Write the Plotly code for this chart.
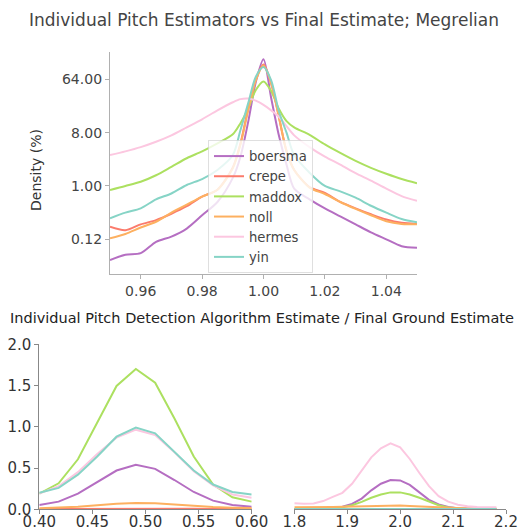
import numpy as np
import plotly.graph_objects as go

# ---- Top panel: KDE of each estimator's ratio to the final pitch estimate (density in %)
ratio_grid = [0.950, 0.955, 0.960, 0.965, 0.970, 0.975, 0.980, 0.985, 0.990, 0.9925,
              0.995, 0.9975, 1.000, 1.0025, 1.005, 1.0075, 1.010, 1.015, 1.020, 1.025,
              1.030, 1.035, 1.040, 1.045, 1.050]

boersma_kde = [0.0556, 0.0684, 0.0728, 0.113, 0.139, 0.190, 0.319, 0.536, 1.37, 3.14,
               12.1, 57.7, 141.0, 30.9, 7.21, 2.30, 0.901, 0.595, 0.418, 0.306,
               0.224, 0.164, 0.125, 0.0954, 0.0896]
crepe_kde = [0.204, 0.178, 0.224, 0.264, 0.339, 0.454, 0.66, 0.865, 2.07, 5.28,
             20.4, 64.0, 114.6, 55.3, 14.9, 3.86, 1.87, 0.959, 0.763, 0.536,
             0.418, 0.332, 0.270, 0.238, 0.228]
maddox_kde = [0.856, 1.0, 1.18, 1.52, 2.11, 2.95, 3.86, 5.28, 7.5, 11.6,
              20.4, 42.2, 58.9, 40.5, 20.4, 12.6, 9.85, 7.36, 5.06, 3.63,
              2.66, 2.03, 1.61, 1.31, 1.11]
noll_kde = [0.130, 0.154, 0.198, 0.248, 0.354, 0.483, 0.66, 0.865, 1.99, 5.06,
            19.1, 61.4, 109.9, 54.2, 14.9, 3.94, 1.87, 0.939, 0.732, 0.536,
            0.409, 0.319, 0.253, 0.228, 0.224]
hermes_kde = [3.34, 3.86, 4.56, 5.62, 7.21, 9.85, 13.5, 19.1, 26.2, 29.6,
              30.3, 27.9, 23.6, 19.1, 14.9, 10.3, 7.21, 4.56, 3.14, 2.30,
              1.65, 1.23, 0.90, 0.674, 0.559]
yin_kde = [0.284, 0.354, 0.418, 0.595, 0.747, 1.04, 1.31, 1.87, 3.34, 8.88,
           25.1, 71.0, 103.3, 61.4, 18.4, 8.0, 3.34, 1.68, 1.0, 0.812,
           0.633, 0.463, 0.354, 0.276, 0.243]

top_ticks = [0.96, 0.98, 1.00, 1.02, 1.04]
density_ticks = [0.125, 1.0, 8.0, 64.0]
density_labels = ["0.12", "1.00", "8.00", "64.00"]

# ---- Bottom panels: octave errors (ratio near 0.5 and near 2.0)
half_ratio = np.linspace(0.40, 0.60, 12)
boersma_half = [0.053, 0.093, 0.19, 0.335, 0.47, 0.54, 0.49, 0.355, 0.21, 0.105, 0.053, 0.03]
crepe_half = [0.003, 0.004, 0.006, 0.008, 0.010, 0.011, 0.010, 0.008, 0.006, 0.004, 0.003, 0.003]
maddox_half = [0.19, 0.315, 0.606, 1.05, 1.495, 1.70, 1.535, 1.10, 0.64, 0.30, 0.145, 0.093]
noll_half = [0.012, 0.018, 0.03, 0.05, 0.068, 0.075, 0.072, 0.058, 0.042, 0.028, 0.02, 0.016]
hermes_half = [0.19, 0.28, 0.45, 0.67, 0.87, 0.965, 0.90, 0.69, 0.46, 0.29, 0.18, 0.14]
yin_half = [0.20, 0.26, 0.42, 0.64, 0.88, 0.99, 0.92, 0.70, 0.47, 0.30, 0.21, 0.18]

double_ratio = 1.8 + np.arange(22) * 0.2 / 11
boersma_double = [0.004, 0.004, 0.005, 0.008, 0.015, 0.03, 0.065, 0.13, 0.23, 0.31, 0.355,
                  0.35, 0.295, 0.20, 0.115, 0.06, 0.028, 0.012, 0.005, 0.003, 0.002, 0.002]
crepe_double = [0.004, 0.004, 0.004, 0.004, 0.004, 0.005, 0.005, 0.005, 0.006, 0.006, 0.006,
                0.006, 0.006, 0.005, 0.005, 0.005, 0.004, 0.004, 0.004, 0.004, 0.004, 0.004]
maddox_double = [0.003, 0.003, 0.004, 0.007, 0.012, 0.025, 0.05, 0.09, 0.14, 0.18, 0.205,
                 0.205, 0.18, 0.14, 0.09, 0.05, 0.022, 0.009, 0.004, 0.002, 0.002, 0.002]
noll_double = [0.025, 0.024, 0.024, 0.025, 0.027, 0.030, 0.034, 0.038, 0.042, 0.045, 0.046,
               0.045, 0.040, 0.034, 0.027, 0.021, 0.016, 0.013, 0.011, 0.010, 0.010, 0.010]
hermes_double = [0.073, 0.066, 0.07, 0.10, 0.15, 0.20, 0.31, 0.47, 0.63, 0.74, 0.80,
                 0.75, 0.61, 0.44, 0.28, 0.16, 0.093, 0.055, 0.036, 0.028, 0.024, 0.024]
yin_double = [0.005, 0.005, 0.005, 0.005, 0.006, 0.007, 0.008, 0.009, 0.010, 0.011, 0.012,
              0.012, 0.011, 0.010, 0.008, 0.007, 0.006, 0.005, 0.005, 0.005, 0.005, 0.005]

half_ticks = [0.40, 0.45, 0.50, 0.55, 0.60]
double_ticks = [1.8, 1.9, 2.0, 2.1, 2.2]
count_ticks = [0.0, 0.5, 1.0, 1.5, 2.0]

names = ["boersma", "crepe", "maddox", "noll", "hermes", "yin"]
colors = ["#b56ec2", "#fb7b6c", "#ace060", "#fdb060", "#fcc7e0", "#86d4c6"]
top_series = [boersma_kde, crepe_kde, maddox_kde, noll_kde, hermes_kde, yin_kde]
half_series = [boersma_half, crepe_half, maddox_half, noll_half, hermes_half, yin_half]
double_series = [boersma_double, crepe_double, maddox_double, noll_double, hermes_double, yin_double]

FONT = "DejaVu Sans"
W, H = 520, 529

fig = go.Figure()
for name, col, ys in zip(names, colors, top_series):
    fig.add_trace(go.Scatter(x=ratio_grid, y=ys, mode="lines", name=name,
                             line=dict(color=col, width=2, shape="spline", smoothing=0.8),
                             xaxis="x", yaxis="y"))
for name, col, ys in zip(names, colors, half_series):
    fig.add_trace(go.Scatter(x=half_ratio, y=ys, mode="lines", name=name, showlegend=False,
                             line=dict(color=col, width=2), xaxis="x2", yaxis="y2"))
for name, col, ys in zip(names, colors, double_series):
    fig.add_trace(go.Scatter(x=double_ratio, y=ys, mode="lines", name=name, showlegend=False,
                             line=dict(color=col, width=2), xaxis="x3", yaxis="y3"))


def px_x(a, b):
    return [a / W, b / W]


def px_y(top, bottom):
    return [1 - bottom / H, 1 - top / H]


top_axis = dict(showline=True, linecolor="#b0b0b0", linewidth=1.3, ticks="outside",
                ticklen=4, tickcolor="#b0b0b0", showgrid=False, zeroline=False,
                automargin=False,
                tickfont=dict(family=FONT, size=14, color="#444444"))
low_axis = dict(showline=True, linecolor="#888888", linewidth=1, ticks="outside",
                ticklen=4, tickcolor="#888888", showgrid=False, zeroline=False,
                automargin=False,
                tickfont=dict(family=FONT, size=15, color="#333333"))

fig.update_layout(
    width=W, height=H, margin=dict(l=0, r=0, t=0, b=0, autoexpand=False),
    paper_bgcolor="white", plot_bgcolor="white",
    font=dict(family=FONT, color="#444444"),
    xaxis=dict(domain=px_x(110, 417), range=[0.95, 1.05], anchor="y",
               tickvals=top_ticks, ticktext=[f"{t:.2f}" for t in top_ticks], **top_axis),
    yaxis=dict(domain=px_y(52, 274), type="log", range=[-1.491, 2.27], anchor="x",
               tickvals=density_ticks, ticktext=density_labels, **top_axis),
    xaxis2=dict(domain=px_x(39.3, 251.7), range=[0.40, 0.60], anchor="y2",
                tickvals=half_ticks, ticktext=[f"{t:.2f}" for t in half_ticks],
                ticklabelstandoff=-5, **low_axis),
    yaxis2=dict(domain=px_y(344.3, 509.3), range=[0, 2.0], anchor="x2",
                tickvals=count_ticks, ticktext=[f"{t:.1f}" for t in count_ticks], **low_axis),
    xaxis3=dict(domain=px_x(294.3, 506), range=[1.8, 2.2], anchor="y3",
                tickvals=double_ticks, ticktext=[f"{t:.1f}" for t in double_ticks],
                ticklabelstandoff=-5, **low_axis),
    yaxis3=dict(domain=px_y(344.3, 509.3), range=[0, 2.0], anchor="x3", matches="y2",
                showline=False, showticklabels=False, ticks="", showgrid=False,
                zeroline=False, automargin=False),
    legend=dict(x=208 / W, y=1 - 140 / H, xanchor="left", yanchor="top",
                bgcolor="rgba(255,255,255,0.8)", bordercolor="rgba(215,215,215,0.8)",
                borderwidth=1, font=dict(family=FONT, size=13.2, color="#444444"),
                tracegroupgap=0, itemwidth=30),
    showlegend=True,
)

fig.add_annotation(text="Individual Pitch Estimators vs Final Estimate; Megrelian",
                   x=263.5 / W, y=1 - 20 / H, xref="paper", yref="paper",
                   showarrow=False, xanchor="center", yanchor="middle",
                   font=dict(family=FONT, size=17, color="#444444"))
fig.add_annotation(text="Density (%)", x=36 / W, y=1 - 170 / H, xref="paper", yref="paper",
                   showarrow=False, textangle=-90, xanchor="center", yanchor="middle",
                   font=dict(family=FONT, size=14, color="#333333"))
fig.add_annotation(text="Individual Pitch Detection Algorithm Estimate / Final Ground Estimate",
                   x=262 / W, y=1 - 318 / H, xref="paper", yref="paper",
                   showarrow=False, xanchor="center", yanchor="middle",
                   font=dict(family=FONT, size=14.5, color="#222222"))

fig.write_html("out.html")
